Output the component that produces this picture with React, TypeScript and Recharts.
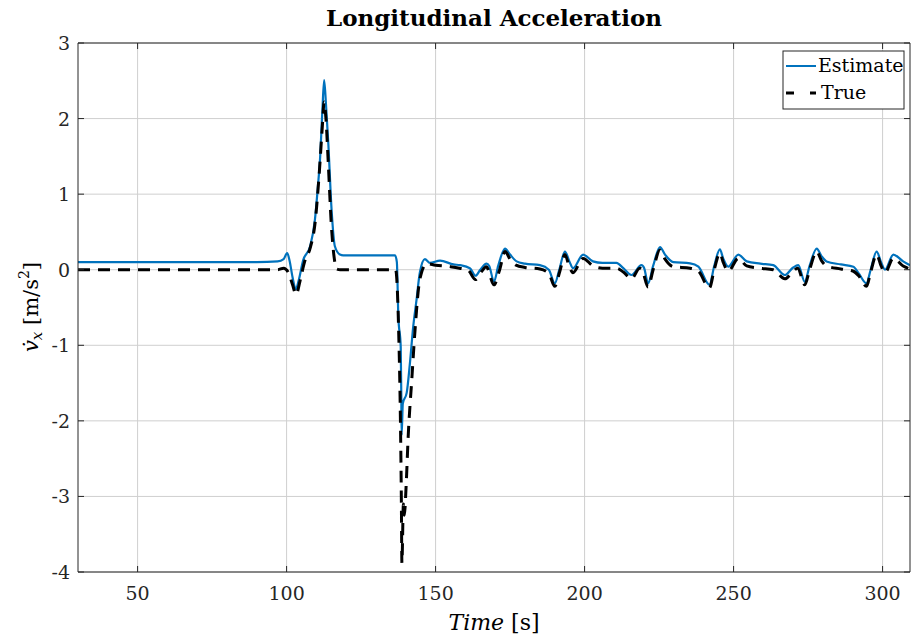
import React from "react";
import { LineChart, Line, XAxis, YAxis, CartesianGrid } from "recharts";

const TITLE = "Longitudinal Acceleration";
const SERIES_EST = "Estimate";
const SERIES_TRUE = "True";

const xTicks = [50, 100, 150, 200, 250, 300];
const yTicks = [-4, -3, -2, -1, 0, 1, 2, 3];

const estT = [30, 60, 90, 97, 99, 100.2, 101, 102, 103.1, 104, 105.6, 107.9, 109.5, 110.5, 111.2, 112, 112.6, 113.2, 114, 115.1, 116.2, 117.9, 119, 125, 136.4, 137, 137.5, 138.3, 138.5, 138.6, 139, 140.3, 141.4, 142.5, 143.6, 144.7, 146.4, 148.1, 151.5, 156, 158.2, 161.5, 163.4, 165, 167.1, 168, 169.6, 171, 173.3, 175, 177.2, 180, 185, 188, 190, 191.5, 193.4, 195, 196.1, 199.5, 202.8, 206, 210.7, 213, 215.7, 219.1, 220, 221.3, 223, 225.3, 227, 229.8, 235.4, 238.2, 241.9, 243.5, 245.4, 246.5, 248.2, 251.6, 254.4, 259, 263.3, 267.2, 270, 271.7, 273.9, 275.5, 277.9, 279.5, 281.2, 286, 290.2, 292, 294.6, 296, 298, 299.5, 300.8, 303.6, 306.9, 309.2];
const estV = [0.1, 0.1, 0.1, 0.11, 0.14, 0.22, 0.12, -0.1, -0.26, -0.15, 0.13, 0.31, 0.66, 1.1, 1.45, 2.1, 2.51, 2.2, 1.67, 0.79, 0.31, 0.2, 0.19, 0.19, 0.19, 0.1, -0.62, -1.02, -1.68, -2.19, -1.77, -1.63, -1.23, -0.75, -0.4, -0.04, 0.14, 0.09, 0.12, 0.07, 0.06, 0.02, -0.08, 0.0, 0.08, 0.05, -0.16, 0.05, 0.28, 0.2, 0.11, 0.08, 0.06, 0.0, -0.18, 0.0, 0.24, 0.1, 0.02, 0.2, 0.11, 0.09, 0.09, 0.02, -0.07, 0.06, 0.02, -0.18, 0.05, 0.3, 0.2, 0.1, 0.085, 0.04, -0.2, 0.05, 0.27, 0.15, 0.04, 0.2, 0.11, 0.08, 0.06, -0.07, 0.03, 0.06, -0.16, 0.05, 0.28, 0.18, 0.11, 0.07, 0.04, -0.05, -0.18, 0.0, 0.24, 0.1, 0.0, 0.2, 0.11, 0.06];

const trueT = [30, 97, 99, 100.5, 102, 103.2, 104.5, 106, 108, 109.5, 111, 112, 112.6, 113.2, 114, 115, 116, 116.8, 118, 136.6, 137.2, 137.6, 138.2, 138.5, 138.7, 139.2, 139.5, 140.1, 140.8, 142, 143.1, 144.7, 147, 150, 155, 158, 161, 163.4, 165.5, 167, 169.6, 171.5, 173.3, 175, 177, 180, 185, 188, 190, 191.7, 193.4, 194.8, 196.1, 199.5, 202.8, 206, 210.7, 213, 215.7, 218.5, 219.3, 221.3, 223, 225.3, 227, 229.8, 235.4, 238.2, 241.9, 243.5, 245.4, 246.5, 248.2, 251.6, 254.4, 259, 263.3, 267.2, 270, 271.5, 273.9, 275.5, 277.9, 279.5, 281.2, 286, 290.2, 292, 294.6, 296, 298, 299.5, 300.8, 303.6, 306.9, 309.2];
const trueV = [0, 0, 0.02, -0.03, -0.2, -0.33, -0.15, 0.1, 0.3, 0.6, 1.3, 1.9, 2.22, 2.0, 1.4, 0.6, 0.15, 0.01, 0, 0, -0.3, -0.8, -2.0, -3.0, -3.88, -3.1, -3.25, -2.87, -2.21, -1.46, -0.8, -0.13, 0.08, 0.06, 0.04, 0.02, -0.01, -0.13, -0.02, 0.04, -0.2, 0.0, 0.24, 0.14, 0.06, 0.03, 0.01, -0.05, -0.22, -0.02, 0.2, 0.05, -0.04, 0.15, 0.05, 0.02, 0.02, -0.03, -0.12, 0.02, 0.0, -0.23, 0.0, 0.26, 0.14, 0.04, 0.02, -0.02, -0.24, 0.0, 0.22, 0.1, -0.02, 0.15, 0.05, 0.02, 0.0, -0.12, -0.02, 0.02, -0.2, 0.0, 0.24, 0.12, 0.05, 0.01, -0.02, -0.08, -0.22, -0.03, 0.2, 0.05, -0.04, 0.15, 0.05, 0.01];

const estData = estT.map((t, i) => ({ t, v: estV[i] }));
const trueData = trueT.map((t, i) => ({ t, v: trueV[i] }));

const AX = "#262626";
const FONT = "'DejaVu Serif', 'Liberation Serif', serif";
const BLUE = "#0072BD";

const XTickBottom = (props: any) => {
  const { x, y, payload } = props;
  return (
    <g>
      <line x1={x} x2={x} y1={y} y2={y - 6} stroke={AX} strokeWidth={1} />
      <text x={x} y={y + 28} textAnchor="middle" fontFamily={FONT} fontSize={19} fill={AX}>
        {payload.value}
      </text>
    </g>
  );
};
const XTickTop = (props: any) => {
  const { x, y } = props;
  return <line x1={x} x2={x} y1={y} y2={y + 6} stroke={AX} strokeWidth={1} />;
};
const YTickLeft = (props: any) => {
  const { x, y, payload } = props;
  return (
    <g>
      <line x1={x} x2={x + 6} y1={y} y2={y} stroke={AX} strokeWidth={1} />
      <text x={x - 8} y={y + 7} textAnchor="end" fontFamily={FONT} fontSize={19} fill={AX}>
        {payload.value}
      </text>
    </g>
  );
};
const YTickRight = (props: any) => {
  const { x, y } = props;
  return <line x1={x} x2={x - 6} y1={y} y2={y} stroke={AX} strokeWidth={1} />;
};

export default function App() {
  return (
    <div style={{ position: "absolute", left: 0, top: 0, width: 911, height: 639, background: "#fff" }}>
      <LineChart
        width={911}
        height={639}
        margin={{ top: 42, right: 0, bottom: 27, left: 18 }}
      >
        <CartesianGrid xAxisId="b" yAxisId="l" stroke="#cfcfcf" strokeWidth={1} horizontalValues={yTicks} verticalValues={xTicks} />
        <XAxis xAxisId="b" dataKey="t" type="number" domain={[30, 309.2]} ticks={xTicks} allowDataOverflow
          height={40} tickSize={0} tickMargin={0} tickLine={false} axisLine={{ stroke: AX, strokeWidth: 1 }} tick={<XTickBottom />} interval={0} />
        <XAxis xAxisId="t" orientation="top" dataKey="t" type="number" domain={[30, 309.2]} ticks={xTicks} allowDataOverflow
          height={1} tickSize={0} tickMargin={0} tickLine={false} axisLine={{ stroke: AX, strokeWidth: 1 }} tick={<XTickTop />} interval={0} />
        <YAxis yAxisId="l" type="number" domain={[-4, 3]} ticks={yTicks} allowDataOverflow width={60}
          tickSize={0} tickMargin={0} tickLine={false} axisLine={{ stroke: AX, strokeWidth: 1 }} tick={<YTickLeft />} interval={0} />
        <YAxis yAxisId="r" orientation="right" type="number" domain={[-4, 3]} ticks={yTicks} allowDataOverflow width={1}
          tickSize={0} tickMargin={0} tickLine={false} axisLine={{ stroke: AX, strokeWidth: 1 }} tick={<YTickRight />} interval={0} />
        <Line xAxisId="b" yAxisId="l" data={estData} dataKey="v" name={SERIES_EST} type="monotone" stroke={BLUE}
          strokeWidth={2.2} dot={false} isAnimationActive={false} />
        <Line xAxisId="b" yAxisId="l" data={trueData} dataKey="v" name={SERIES_TRUE} type="monotone" stroke="#000"
          strokeWidth={3} strokeDasharray="12 8" dot={false} isAnimationActive={false} />
      </LineChart>

      <div style={{ position: "absolute", left: 78, top: 3, width: 832, textAlign: "center", fontFamily: FONT, fontWeight: "bold", fontSize: 23, lineHeight: "30px", color: "#000" }}>
        {TITLE}
      </div>

      <svg width={911} height={639} style={{ position: "absolute", left: 0, top: 0, pointerEvents: "none" }}>
        <text x={494} y={630} textAnchor="middle" fontFamily={FONT} fontSize={22} fill="#000">
          <tspan fontStyle="italic">Time</tspan>
          <tspan> [s]</tspan>
        </text>
        <text transform="translate(38,307) rotate(-90)" textAnchor="middle" fontFamily={FONT} fontSize={21} fill="#000">
          <tspan fontStyle="italic">{"v\u0307"}</tspan>
          <tspan fontStyle="italic" fontSize={15} dy={4}>x</tspan>
          <tspan dy={-4}> [m/s</tspan>
          <tspan fontSize={14} dy={-9}>2</tspan>
          <tspan dy={9}>]</tspan>
        </text>
        <rect x={783} y={51} width={121} height={58} fill="#fff" stroke={AX} strokeWidth={1} />
        <line x1={786} x2={816} y1={66} y2={66} stroke={BLUE} strokeWidth={2} />
        <text x={818} y={72} fontFamily={FONT} fontSize={19} fill="#000">{SERIES_EST}</text>
        <line x1={786} x2={816} y1={93} y2={93} stroke="#000" strokeWidth={3} strokeDasharray="8 16" />
        <text x={821} y={99} fontFamily={FONT} fontSize={19} fill="#000">{SERIES_TRUE}</text>
      </svg>
    </div>
  );
}
